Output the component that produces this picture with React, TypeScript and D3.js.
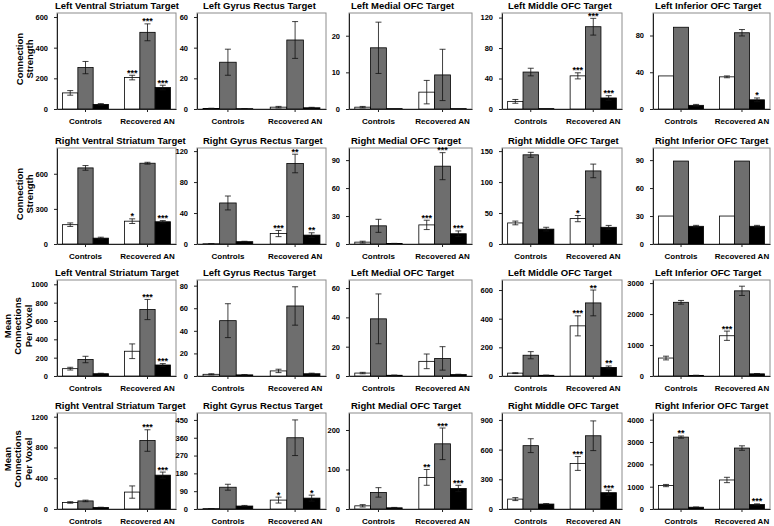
import { useEffect, useRef } from "react";
import * as d3 from "d3";

// groups on the x axis and the three bar series (white / gray / black)
const groups = ["Controls", "Recovered AN"];
const seriesFill = ["#ffffff", "#6e6e6e", "#000000"];

const titles = [
  "Left Ventral Striatum Target", "Left Gyrus Rectus Target", "Left Medial OFC Target", "Left Middle OFC Target", "Left Inferior OFC Target",
  "Right Ventral Striatum Target", "Right Gyrus Rectus Target", "Right Medial OFC Target", "Right Middle OFC Target", "Right Inferior OFC Target",
  "Left Ventral Striatum Target", "Left Gyrus Rectus Target", "Left Medial OFC Target", "Left Middle OFC Target", "Left Inferior OFC Target",
  "Right Ventral Striatum Target", "Right Gyrus Rectus Target", "Right Medial OFC Target", "Right Middle OFC Target", "Right Inferior OFC Target",
];

const rowLabels = [
  ["Connection", "Strength"],
  ["Connection", "Strength"],
  ["Mean", "Connections", "Per Voxel"],
  ["Mean", "Connections", "Per Voxel"],
];

// y axis top value per panel
const yMax = [
  626, 62.6, 26.2, 126, 104.5,
  820, 124, 103, 155, 103,
  1047, 85, 65.5, 670, 3100,
  1248, 485, 243, 970, 4300,
];

const yTicks = [
  [0, 200, 400, 600], [0, 20, 40, 60], [0, 10, 20], [0, 40, 80, 120], [0, 40, 80],
  [0, 300, 600], [0, 40, 80, 120], [0, 30, 60, 90], [0, 50, 100, 150], [0, 30, 60, 90],
  [0, 200, 400, 600, 800, 1000], [0, 20, 40, 60, 80], [0, 20, 40, 60], [0, 200, 400, 600], [0, 1000, 2000, 3000],
  [0, 400, 800, 1200], [0, 90, 180, 270, 360, 450], [0, 100, 200], [0, 300, 600, 900], [0, 1000, 2000, 3000, 4000],
];

// means: controls white, gray, black, recovered white, gray, black
const means = [
  [105, 270, 30, 205, 500, 140],
  [0.3, 30.5, 0.2, 1.2, 45, 0.8],
  [0.5, 16.7, 0.1, 4.6, 9.3, 0.1],
  [10, 48.5, 0.5, 43.5, 108, 14.5],
  [36, 89, 4, 35, 83, 10],
  [165, 650, 50, 195, 690, 190],
  [0.3, 53, 3, 13.5, 104, 11.5],
  [2, 19.5, 0.5, 20.5, 83.5, 11],
  [34, 144, 24, 41, 118, 27],
  [30, 89, 19, 30, 89, 19],
  [80, 180, 25, 270, 725, 120],
  [1.5, 49, 1, 4.5, 62, 2],
  [2, 39, 0.5, 10, 12, 1],
  [20, 145, 5, 350, 510, 60],
  [580, 2380, 20, 1300, 2750, 70],
  [85, 105, 20, 220, 890, 440],
  [2, 110, 15, 45, 360, 55],
  [8, 42, 3, 80, 165, 52],
  [100, 640, 50, 460, 740, 165],
  [1050, 3220, 80, 1300, 2730, 200],
];

const errors = [
  [15, 40, 5, 15, 55, 15],
  [0.2, 8.5, 0.1, 0.5, 12, 0.3],
  [0.2, 7, 0, 3.2, 7, 0],
  [2.5, 5, 0, 4, 11, 3],
  [0, 0, 1, 1, 3.5, 2],
  [15, 20, 8, 20, 8, 10],
  [0.1, 9, 0.5, 4, 12, 3],
  [1, 7, 0.2, 5, 14.5, 3],
  [3, 4, 3, 5, 11, 3],
  [0, 0, 1, 0, 0, 1],
  [15, 35, 5, 80, 110, 15],
  [0.5, 15, 0.2, 1.5, 17, 0.5],
  [0.5, 17, 0.1, 5, 8, 0.2],
  [3, 25, 1, 70, 90, 10],
  [60, 60, 5, 150, 150, 10],
  [10, 10, 3, 80, 140, 40],
  [0.5, 15, 3, 15, 90, 15],
  [3, 12, 1, 20, 40, 8],
  [15, 70, 5, 70, 150, 25],
  [50, 50, 10, 120, 100, 30],
];

const stars = [
  ["", "", "", "***", "***", "***"],
  ["", "", "", "", "", ""],
  ["", "", "", "", "", ""],
  ["", "", "", "***", "***", "***"],
  ["", "", "", "", "", "*"],
  ["", "", "", "*", "", "***"],
  ["", "", "", "***", "**", "**"],
  ["", "", "", "***", "***", "***"],
  ["", "", "", "*", "", ""],
  ["", "", "", "", "", ""],
  ["", "", "", "", "***", "***"],
  ["", "", "", "", "", ""],
  ["", "", "", "", "", ""],
  ["", "", "", "***", "**", "**"],
  ["", "", "", "***", "", ""],
  ["", "", "", "", "***", "***"],
  ["", "", "", "*", "", "*"],
  ["", "", "", "**", "***", "***"],
  ["", "", "", "***", "", "***"],
  ["", "**", "", "", "", "***"],
];

function PanelGrid() {
  const svgRef = useRef<SVGSVGElement>(null);

  useEffect(() => {
    if (!svgRef.current) return;
    const svg = d3.select(svgRef.current);
    svg.selectAll("*").remove();

    const width = 774;
    const height = 526;
    svg.attr("width", width).attr("height", height);

    const font = "Arial, 'Liberation Sans', sans-serif";

    // panel boxes
    const colLeft = [57, 197, 349, 502, 653];
    const colRight = [176, 326, 472, 622, 770];
    const titleX = [55, 203, 351, 508, 655];
    const rowTop = [13, 148, 280, 413];
    const panelH = 96;

    // row labels on the far left
    const labelX = [[19, 29], [19, 29], [7, 17.5, 28], [7, 17.5, 28]];
    rowLabels.forEach((lines, r) => {
      const cy = rowTop[r] + panelH / 2 - 2;
      lines.forEach((line, k) => {
        svg.append("text")
          .attr("transform", `translate(${labelX[r][k]},${cy}) rotate(-90)`)
          .attr("text-anchor", "middle")
          .attr("dominant-baseline", "central")
          .attr("font-family", font)
          .attr("font-weight", "bold")
          .attr("font-size", 9.5)
          .text(line);
      });
    });

    titles.forEach((title, p) => {
      const r = Math.floor(p / 5);
      const c = p % 5;
      const left = colLeft[c];
      const w = colRight[c] - left;
      const top = rowTop[r];
      const h = panelH;

      const g = svg.append("g").attr("transform", `translate(${left},${top})`);

      const y = d3.scaleLinear().domain([0, yMax[p]]).range([h, 0]);
      const x0 = d3.scaleBand().domain(groups).range([0, w]).paddingInner(0.26).paddingOuter(0.09);
      const x1 = d3.scaleBand<number>().domain([0, 1, 2]).range([0, x0.bandwidth()]);

      // title
      svg.append("text")
        .attr("x", titleX[c])
        .attr("y", top - 4)
        .attr("font-family", font)
        .attr("font-weight", "bold")
        .attr("font-size", 9.5)
        .text(title);

      // frame
      g.append("rect")
        .attr("width", w)
        .attr("height", h)
        .attr("fill", "none")
        .attr("stroke", "#8c8c8c");

      const items = means[p].map((v, i) => ({
        v,
        e: errors[p][i],
        s: stars[p][i],
        grp: groups[i < 3 ? 0 : 1],
        k: i % 3,
      }));
      const cx = (d: any) => x0(d.grp)! + x1(d.k)! + x1.bandwidth() / 2;

      // bars
      g.selectAll(".bar")
        .data(items)
        .join("rect")
        .attr("class", "bar")
        .attr("x", (d) => x0(d.grp)! + x1(d.k)!)
        .attr("y", (d) => y(d.v))
        .attr("width", x1.bandwidth())
        .attr("height", (d) => h - y(d.v))
        .attr("fill", (d) => seriesFill[d.k])
        .attr("stroke", "#000")
        .attr("stroke-width", 0.8);

      // error bars
      const eb = items.filter((d) => d.e > 0);
      g.selectAll(".err")
        .data(eb)
        .join("line")
        .attr("class", "err")
        .attr("x1", cx)
        .attr("x2", cx)
        .attr("y1", (d) => y(Math.max(0, d.v - d.e)))
        .attr("y2", (d) => y(d.v + d.e))
        .attr("stroke", "#111")
        .attr("stroke-width", 0.8);
      ["lo", "hi"].forEach((side) => {
        g.selectAll(".cap" + side)
          .data(eb)
          .join("line")
          .attr("class", "cap" + side)
          .attr("x1", (d) => cx(d) - 3)
          .attr("x2", (d) => cx(d) + 3)
          .attr("y1", (d) => y(side === "lo" ? Math.max(0, d.v - d.e) : d.v + d.e))
          .attr("y2", (d) => y(side === "lo" ? Math.max(0, d.v - d.e) : d.v + d.e))
          .attr("stroke", "#111")
          .attr("stroke-width", 0.8);
      });

      // significance stars just above the upper cap
      g.selectAll(".star")
        .data(items.filter((d) => d.s))
        .join("text")
        .attr("class", "star")
        .attr("x", cx)
        .attr("y", (d) => y(d.v + d.e) + 0.5)
        .attr("text-anchor", "middle")
        .attr("font-family", font)
        .attr("font-weight", "bold")
        .attr("font-size", 9)
        .text((d) => d.s);

      // axes
      const ya = g.append("g").call(d3.axisLeft(y).tickValues(yTicks[p]).tickSize(3).tickSizeOuter(0).tickPadding(6).tickFormat(d3.format("d")));
      const xa = g.append("g").attr("transform", `translate(0,${h})`).call(d3.axisBottom(x0).tickSize(3).tickSizeOuter(0).tickPadding(6));
      [ya, xa].forEach((a) => {
        a.selectAll("text").attr("font-family", font).attr("font-weight", "bold").attr("fill", "#000");
        a.select(".domain").attr("stroke", "#222");
        a.selectAll(".tick line").attr("stroke", "#222");
      });
      ya.selectAll("text").attr("font-size", 7.5);
      xa.selectAll("text").attr("font-size", 8);
    });
  }, []);

  return <svg ref={svgRef} style={{ position: "absolute", left: 0, top: 0 }}></svg>;
}

export default function App() {
  return <PanelGrid />;
}
